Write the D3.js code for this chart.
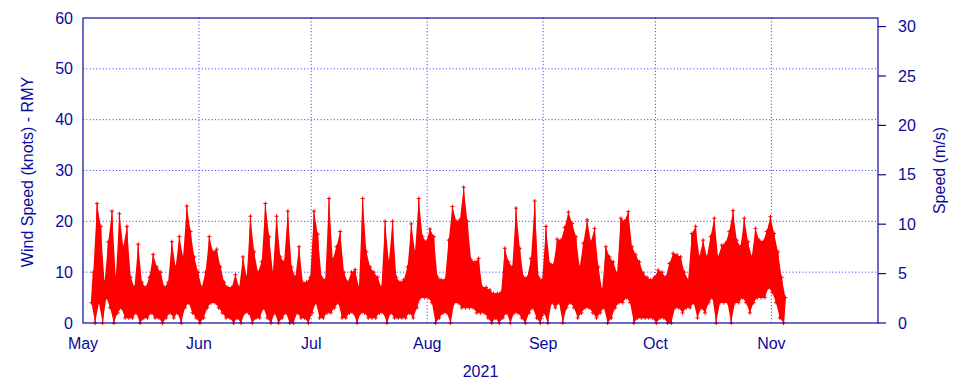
<!DOCTYPE html>
<html>
<head>
<meta charset="utf-8">
<script src="https://cdn.jsdelivr.net/npm/d3@7"></script>
<style>
  body { margin: 0; background: #fff; }
  svg { display: block; font-family: "Liberation Sans", Arial, sans-serif; }
</style>
</head>
<body>
<svg id="chart" width="960" height="384"></svg>
<script>
// daily low / high wind speed (knots), first value is 3 May 2021
var firstDay = new Date(2021, 4, 3);
var dayLow = [
  4, 0, 4, 0, 5, 3, 0, 2, 3, 1, 1, 1, 2, 0, 1, 1, 2, 1, 1, 0, 1, 2, 1, 2, 0, 3, 4, 2, 1, 0,
  1, 3, 4, 4, 3, 2, 1, 1, 0, 1, 0, 2, 2, 0, 1, 1, 3, 1, 0, 2, 0, 1, 2, 0, 0, 2, 1, 1, 0, 2, 4,
  1, 1, 2, 2, 3, 4, 1, 1, 2, 2, 0, 2, 2, 1, 1, 1, 2, 2, 0, 2, 1, 1, 1, 1, 2, 1, 3, 5, 5, 5, 4,
  0, 1, 2, 2, 0, 4, 4, 3, 3, 3, 3, 2, 2, 2, 1, 0, 1, 0, 1, 2, 0, 2, 2, 1, 0, 2, 3, 1, 0, 2,
  0, 4, 3, 4, 0, 3, 4, 3, 1, 2, 3, 3, 2, 1, 2, 3, 0, 1, 3, 4, 4, 5, 4, 0, 1, 1, 1, 1, 1, 0, 1, 1,
  0, 0, 3, 3, 2, 3, 3, 4, 1, 3, 2, 4, 5, 0, 4, 4, 4, 0, 4, 4, 5, 4, 2, 4, 5, 5, 5, 7, 6, 4, 1, 0
];
var dayHigh = [
  10, 23.5, 19, 8, 16, 22, 9, 21.5, 15, 19, 9, 7, 15.5, 8, 7, 9, 13.5, 11, 10, 7, 8, 16, 11, 17, 13, 23, 18, 13, 10, 7,
  10, 17, 14, 14.5, 11, 8, 7, 7, 9.5, 7, 13, 9, 21, 14, 10, 12, 23.5, 17, 10, 21, 13, 12, 22, 11, 9, 15, 8, 8, 9, 22, 17.5,
  9, 8.5, 24.5, 12.5, 15, 18, 10, 8, 10, 10.5, 7, 24.5, 14, 11, 10, 9, 7, 20, 12, 20, 9, 8, 8.5, 11, 19.5, 14, 24.5, 17, 16, 18.5, 17,
  9, 8.5, 8.5, 16.3, 22.9, 20, 20.3, 26.7, 20, 12.4, 12, 12.7, 7, 7, 6.5, 5.8, 5.8, 6, 14.7, 12, 11, 22.6, 14.7, 9, 9, 12.7, 24, 9, 8.5, 19,
  11.7, 11.5, 16.5, 16.3, 18.8, 21.8, 19.6, 17, 11, 15.7, 20.3, 16, 18.6, 11, 6.5, 15, 13, 12, 9.8, 20.6, 20, 21.9, 15, 13.4, 12, 9.8, 9, 8.5, 9, 10.4, 10, 9,
  11.7, 13.7, 13.4, 13, 10, 8.5, 17.6, 19, 13, 16.3, 13, 17, 20.6, 13, 15.3, 15.7, 18, 22.1, 16.3, 15, 20.6, 16, 13, 18.6, 16.3, 16, 18, 20.9, 17.6, 14, 9, 5
];
var leftTicks = [0, 10, 20, 30, 40, 50, 60];
var rightTicks = [0, 5, 10, 15, 20, 25, 30];
var monthTicks = [new Date(2021, 4, 1), new Date(2021, 5, 1), new Date(2021, 6, 1), new Date(2021, 7, 1),
                  new Date(2021, 8, 1), new Date(2021, 9, 1), new Date(2021, 10, 1)];
var monthNames = ["May", "Jun", "Jul", "Aug", "Sep", "Oct", "Nov"];
var knotsToMs = 0.514444;

var svg = d3.select("#chart");
var margin = {top: 18, right: 82, bottom: 61, left: 83},
    width = +svg.attr("width") - margin.left - margin.right,
    height = +svg.attr("height") - margin.top - margin.bottom,
    g = svg.append("g").attr("transform", "translate(" + margin.left + "," + margin.top + ")");

var navy = "#0a0a9c";

var x = d3.scaleTime()
    .domain([new Date(2021, 4, 1), new Date(2021, 10, 29, 12)])
    .range([0, width]);
var y = d3.scaleLinear().domain([0, 60]).range([height, 0]);
var y2 = d3.scaleLinear().domain([0, 60 * knotsToMs]).range([height, 0]);

function dayDate(i, frac) {
  return new Date(firstDay.getTime() + (i + frac) * 864e5);
}

// grid
g.append("g")
  .selectAll("line")
  .data(leftTicks.slice(1, -1))
  .enter().append("line")
    .attr("x1", 0).attr("x2", width)
    .attr("y1", function(d) { return y(d); })
    .attr("y2", function(d) { return y(d); })
    .attr("stroke", "#3030ff")
    .attr("stroke-dasharray", "1,2.3");

g.append("g")
  .selectAll("line")
  .data(monthTicks.slice(1))
  .enter().append("line")
    .attr("x1", function(d) { return x(d); })
    .attr("x2", function(d) { return x(d); })
    .attr("y1", 0).attr("y2", height)
    .attr("stroke", "#3030ff")
    .attr("stroke-dasharray", "1,2.3");

// data
var trace = [];
dayLow.forEach(function(v, i) {
  trace.push({t: dayDate(i, 0.25), v: v});
  trace.push({t: dayDate(i, 0.75), v: dayHigh[i]});
});

var band = d3.area()
    .x0(function(d, i) { return x(dayDate(i, 0.25)); })
    .x1(function(d, i) { return x(dayDate(i, 0.75)); })
    .y0(function(d, i) { return y(dayLow[i]); })
    .y1(function(d, i) { return y(dayHigh[i]); });

g.append("path")
    .datum(dayLow)
    .attr("d", band)
    .attr("fill", "#ff0000");

g.append("path")
    .datum(trace)
    .attr("d", d3.line()
      .x(function(d) { return x(d.t); })
      .y(function(d) { return y(d.v); }))
    .attr("fill", "none")
    .attr("stroke", "#ff0000")
    .attr("stroke-width", 1.2);

g.append("g")
  .selectAll("path")
  .data(trace)
  .enter().append("path")
    .attr("transform", function(d) { return "translate(" + x(d.t) + "," + y(d.v) + ")"; })
    .attr("d", "M-2,0H2M0,-2V2")
    .attr("stroke", "#ff0000")
    .attr("stroke-width", 1);

// frame
g.append("rect")
    .attr("width", width)
    .attr("height", height)
    .attr("fill", "none")
    .attr("stroke", navy)
    .attr("stroke-width", 1.2);

// left axis labels
g.append("g")
  .selectAll("text")
  .data(leftTicks)
  .enter().append("text")
    .attr("x", -10)
    .attr("y", function(d) { return y(d); })
    .attr("dy", "0.35em")
    .attr("text-anchor", "end")
    .attr("fill", navy)
    .style("font-size", "16px")
    .text(function(d) { return d; });

// right axis
var right = g.append("g").attr("transform", "translate(" + width + ",0)");
right.selectAll("line")
  .data(rightTicks)
  .enter().append("line")
    .attr("x1", 0).attr("x2", 8)
    .attr("y1", function(d) { return y2(d); })
    .attr("y2", function(d) { return y2(d); })
    .attr("stroke", navy)
    .attr("stroke-width", 1.2);
right.selectAll("text")
  .data(rightTicks)
  .enter().append("text")
    .attr("x", 20)
    .attr("y", function(d) { return y2(d); })
    .attr("dy", "0.35em")
    .attr("fill", navy)
    .style("font-size", "16px")
    .text(function(d) { return d; });

// month labels
g.append("g")
  .selectAll("text")
  .data(monthTicks)
  .enter().append("text")
    .attr("x", function(d) { return x(d); })
    .attr("y", height + 25.5)
    .attr("text-anchor", "middle")
    .attr("fill", navy)
    .style("font-size", "16px")
    .text(function(d, i) { return monthNames[i]; });

g.append("text")
    .attr("x", width / 2)
    .attr("y", height + 53.7)
    .attr("text-anchor", "middle")
    .attr("fill", navy)
    .style("font-size", "16px")
    .text("2021");

g.append("text")
    .attr("transform", "translate(" + (33 - margin.left) + "," + (height / 2 + 1.5) + ") rotate(-90)")
    .attr("text-anchor", "middle")
    .attr("fill", navy)
    .style("font-size", "16px")
    .text("Wind Speed (knots) - RMY");

g.append("text")
    .attr("transform", "translate(" + (width + 67) + "," + (height / 2) + ") rotate(-90)")
    .attr("text-anchor", "middle")
    .attr("fill", navy)
    .style("font-size", "16px")
    .text("Speed (m/s)");
</script>
</body>
</html>
